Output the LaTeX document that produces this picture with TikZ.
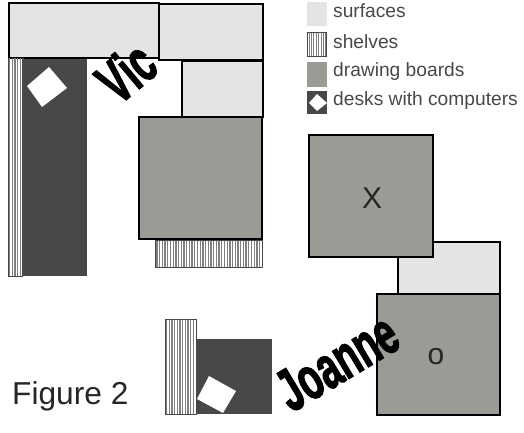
\documentclass[tikz,border=0pt]{standalone}
\usepackage{fontspec}
\setmainfont{Liberation Sans}
\newfontfamily\namefont[FakeBold=2.5]{Liberation Sans Bold}

\definecolor{surface}{HTML}{E4E4E4}
\definecolor{board}{HTML}{989C94}
\definecolor{desk}{HTML}{484848}
\definecolor{stripe}{HTML}{808080}

\tikzset{
    surfacebox/.style={draw=black, line width=1.5pt, fill=surface},
    boardbox/.style={draw=black, line width=1.5pt, fill=board},
    shelfline/.style={stripe, line width=1.3pt},
    shelfedge/.style={draw=desk, line width=1pt},
    legendtext/.style={anchor=west, inner sep=0pt, text=desk, font=\fontsize{19.2}{19.2}\selectfont},
    nametext/.style={inner sep=0pt, font=\namefont\fontsize{60}{60}\selectfont, transform shape}
}

\begin{document}
\begin{tikzpicture}[x=1pt, y=-1pt]
        \useasboundingbox (0,0) rectangle (524,433);

        % Vic
        \draw[surfacebox] (159,4) rectangle (263,60);
        \draw[surfacebox] (9,3) rectangle (159,58);
        \draw[surfacebox] (182,61) rectangle (263,117);
        \draw[boardbox] (139,117) rectangle (262,239);
        \fill[desk] (23,59) rectangle (87,276);
        \fill[white] (49,67) -- (67,88) -- (42,107) -- (27,86) -- cycle;
        \foreach \x in {9.5,12.2,...,22} {
            \draw[shelfline] (\x,58) -- (\x,276);
        }
        \draw[shelfedge] (8,58) -- (8,276) -- (23,276);
        \draw[desk, line width=1.5pt] (23,58) -- (23,276);
        \foreach \x in {157,159.7,...,261} {
            \draw[shelfline] (\x,240) -- (\x,267);
        }
        \draw[shelfedge] (155.5,240) rectangle (262,267);

        % Joanne
        \draw[surfacebox] (398,242) rectangle (500,294);
        \draw[boardbox] (309,135) rectangle (433,257);
        \draw[boardbox] (377,294) rectangle (500,415);
        \fill[desk] (196,339) rectangle (272,414);
        \fill[white] (209,376) -- (236,391) -- (223,413) -- (197,399) -- cycle;
        \foreach \x in {166.5,169.2,...,195} {
            \draw[shelfline] (\x,319) -- (\x,414);
        }
        \draw[shelfedge] (165,319) rectangle (196,414);

        % legend
        \fill[surface] (307,2) rectangle (327,26);
        \foreach \x in {309,311.4,...,326} {
            \draw[stripe, line width=0.8pt] (\x,33) -- (\x,56);
        }
        \draw[shelfedge] (307.5,32.5) rectangle (326.5,56.5);
        \fill[board] (307,62) rectangle (327,87);
        \fill[desk] (307,91) rectangle (327,114);
        \fill[white] (317,94) -- (327,103) -- (317,111) -- (309,103) -- cycle;
        \node[legendtext] (surfaces) at (333,11) {surfaces};
        \node[legendtext] (shelves) at (333,42) {shelves};
        \node[legendtext] (boards) at (333,72) {drawing boards};
        \node[legendtext] (desks) at (333,101) {desks with computers};

        % labels
        \node[nametext, rotate=40, xscale=0.62] (vic) at (126,72) {Vic};
        \node[nametext, rotate=31, xscale=0.62] (joanne) at (337,362) {Joanne};
        \node[inner sep=0pt, font=\fontsize{30}{30}\selectfont, text=black!85] (x) at (372,198) {X};
        \node[inner sep=0pt, font=\fontsize{30}{30}\selectfont, text=black!85] (o) at (436,357) {o};
        \node[anchor=west, inner sep=0pt, font=\fontsize{31.7}{31.7}\selectfont, text=black!85] (figure) at (12,396) {Figure 2};
    \end{tikzpicture}
\end{document}
